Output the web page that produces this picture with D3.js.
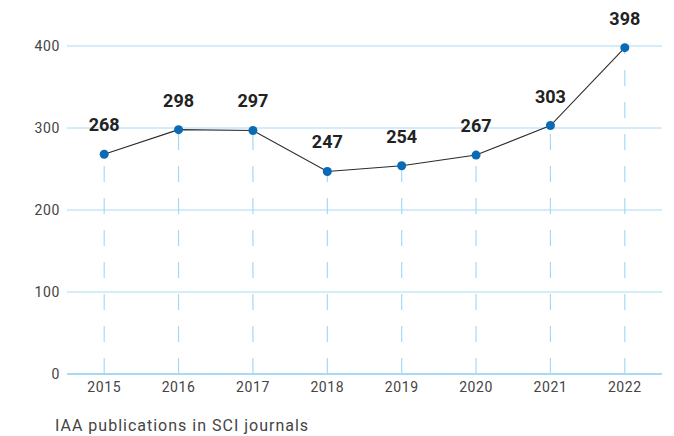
<!DOCTYPE html>
<html><head><meta charset="utf-8">
<script src="https://cdn.jsdelivr.net/npm/d3@7"></script>
<style>body{margin:0;background:#fff;} svg{display:block;}</style>
</head><body>
<svg id="c" width="674" height="436"></svg>
<script>
const years = ["2015","2016","2017","2018","2019","2020","2021","2022"];
const publications = [268, 298, 297, 247, 254, 267, 303, 398];
const yTicks = [0, 100, 200, 300, 400];
const caption = "IAA publications in SCI journals";

(function () {
const svg = d3.select("#c");
const mLeft = 67, mRight = 662, mTop = 46, mBottom = 374;
const x = d3.scalePoint().domain(years).range([mLeft, mRight]).padding(0.5);
const y = d3.scaleLinear().domain([0, 400]).range([mBottom, mTop]);
const grid = "#a6daf3";
const font = "Roboto, 'DejaVu Sans', sans-serif";

// gridlines
svg.append("g").selectAll("line").data(yTicks).join("line")
  .attr("x1", mLeft).attr("x2", mRight)
  .attr("y1", d => y(d)).attr("y2", d => y(d))
  .attr("stroke", grid).attr("stroke-width", d => d === 0 ? 2 : 1);

// y labels
svg.append("g").selectAll("text").data(yTicks).join("text")
  .attr("x", 60).attr("y", d => y(d)).attr("dy", "0.36em")
  .attr("text-anchor", "end").attr("font-family", font).attr("font-size", 14)
  .attr("letter-spacing", 0.6)
  .attr("fill", "#444").text(d => d);

// dashed verticals
svg.append("g").selectAll("line").data(years).join("line")
  .attr("x1", d => x(d)).attr("x2", d => x(d))
  .attr("y1", y(0)).attr("y2", (d, i) => y(publications[i]))
  .attr("stroke", grid).attr("stroke-width", 1.2)
  .attr("stroke-dasharray", "16,16");

// x labels
svg.append("g").selectAll("text").data(years).join("text")
  .attr("x", d => x(d)).attr("y", 392)
  .attr("text-anchor", "middle").attr("font-family", font).attr("font-size", 14)
  .attr("letter-spacing", 0.6)
  .attr("fill", "#444").text(d => d);

// line
const line = d3.line().x((d, i) => x(years[i])).y(d => y(d));
svg.append("path").datum(publications).attr("d", line)
  .attr("fill", "none").attr("stroke", "#2b2b2b").attr("stroke-width", 1.1);

// points
svg.append("g").selectAll("circle").data(publications).join("circle")
  .attr("cx", (d, i) => x(years[i])).attr("cy", d => y(d)).attr("r", 4.5)
  .attr("fill", "#0a6ab6");

// value labels
svg.append("g").selectAll("text").data(publications).join("text")
  .attr("x", (d, i) => x(years[i])).attr("y", d => y(d) - 23)
  .attr("text-anchor", "middle").attr("font-family", font).attr("font-size", 18)
  .attr("font-weight", "bold").attr("fill", "#222").text(d => d);

// caption
svg.append("text").attr("x", 55).attr("y", 431)
  .attr("font-family", font).attr("font-size", 16).attr("letter-spacing", 1)
  .attr("fill", "#444").text(caption);
})();
</script>
</body></html>
